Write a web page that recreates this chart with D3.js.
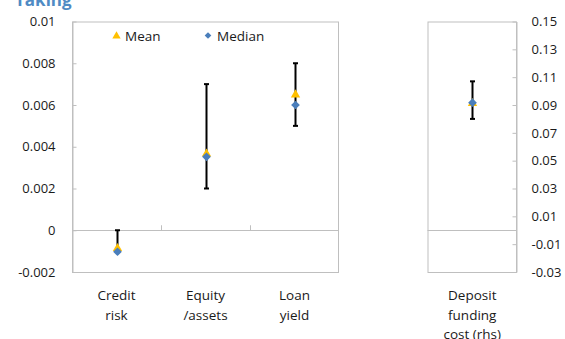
<!DOCTYPE html>
<html>
<head>
<meta charset="utf-8">
<script src="https://cdn.jsdelivr.net/npm/d3@7"></script>
<style>
  html, body { margin: 0; padding: 0; background: #fff; }
  svg { display: block; font-family: "Open Sans", "Noto Sans", sans-serif; }
</style>
</head>
<body>
<svg id="chart" width="565" height="339"></svg>
<script>
// Left panel: bank-level coefficients
const leftCategories = [["Credit", "risk"], ["Equity", "/assets"], ["Loan", "yield"]];
const leftMean   = [-0.00087, 0.00366, 0.00649];
const leftMedian = [-0.00103, 0.00352, 0.0060];
const leftLow    = [-0.00103, 0.0020, 0.0050];
const leftHigh   = [0.0, 0.0070, 0.0080];
const leftTicks  = [-0.002, 0, 0.002, 0.004, 0.006, 0.008, 0.01];
const leftTickLabels = ["-0.002", "0", "0.002", "0.004", "0.006", "0.008", "0.01"];

// Right panel: deposit funding cost (right-hand scale)
const rightCategories = [["Deposit", "funding", "cost (rhs)"]];
const rightMean   = [0.0912];
const rightMedian = [0.0917];
const rightLow    = [0.080];
const rightHigh   = [0.107];
const rightTicks  = [-0.03, -0.01, 0.01, 0.03, 0.05, 0.07, 0.09, 0.11, 0.13, 0.15];
const rightTickLabels = ["-0.03", "-0.01", "0.01", "0.03", "0.05", "0.07", "0.09", "0.11", "0.13", "0.15"];

const legendItems = ["Mean", "Median"];
const titleText = "Taking";

const meanColor = "#FFC000";
const medianColor = "#4A7EBB";
const frameColor = "#BFBFBF";
const textColor = "#1a1a1a";

const svg = d3.select("#chart");

// Title (partly above the canvas)
svg.append("text")
  .attr("x", 15).attr("y", 6)
  .attr("fill", "#4F8BC4")
  .attr("font-weight", "bold")
  .attr("font-size", 17)
  .text(titleText);

function panel(opts) {
  const { x0, x1, y0, y1, domain, ticks, tickLabels, cats, mean, median, low, high, axisSide, catTicks } = opts;
  const g = svg.append("g");
  const x = d3.scaleBand().domain(d3.range(cats.length)).range([x0, x1]);
  const y = d3.scaleLinear().domain(domain).range([y1, y0]);

  // Frame
  g.append("rect")
    .attr("x", x0 + 0.5).attr("y", y0 + 0.5)
    .attr("width", x1 - x0 - 1).attr("height", y1 - y0)
    .attr("fill", "none").attr("stroke", frameColor).attr("stroke-width", 1);

  // Zero line
  g.append("line")
    .attr("x1", x0).attr("x2", x1)
    .attr("y1", Math.round(y(0)) + 0.5).attr("y2", Math.round(y(0)) + 0.5)
    .attr("stroke", frameColor);

  // Category tick marks on the zero line
  if (catTicks) {
    d3.range(1, cats.length).forEach(i => {
      const xx = Math.round(x(i)) + 0.5;
      g.append("line")
        .attr("x1", xx).attr("x2", xx)
        .attr("y1", y(0) - 5).attr("y2", y(0))
        .attr("stroke", frameColor);
    });
  }

  // Value axis
  const axisX = axisSide === "left" ? x0 : x1;
  const axis = (axisSide === "left" ? d3.axisLeft(y) : d3.axisRight(y))
    .tickValues(ticks)
    .tickFormat((d, i) => tickLabels[i])
    .tickSizeInner(-4)
    .tickSizeOuter(0)
    .tickPadding(axisSide === "left" ? 17 : 15);
  const ag = g.append("g")
    .attr("transform", `translate(${axisX + (axisSide === "left" ? 0.5 : -0.5)},0)`)
    .call(axis);
  ag.select(".domain").attr("stroke", frameColor);
  ag.selectAll(".tick line").attr("stroke", frameColor);
  ag.selectAll(".tick text")
    .attr("fill", textColor)
    .attr("font-size", 13)
    .attr("font-family", "\"Open Sans\", \"Noto Sans\", sans-serif");

  // Category labels
  cats.forEach((lines, i) => {
    const cx = x(i) + x.bandwidth() / 2;
    const t = g.append("text")
      .attr("text-anchor", "middle")
      .attr("fill", textColor)
      .attr("font-size", 13.5);
    lines.forEach((ln, k) => {
      t.append("tspan").attr("x", cx).attr("y", y1 + 28 + k * 19.5).text(ln);
    });
  });

  // Error bars
  cats.forEach((_, i) => {
    const cx = Math.round(x(i) + x.bandwidth() / 2) + 0.5;
    g.append("line")
      .attr("x1", cx).attr("x2", cx)
      .attr("y1", y(low[i])).attr("y2", y(high[i]))
      .attr("stroke", "#000").attr("stroke-width", 2);
    [low[i], high[i]].forEach(v => {
      g.append("line")
        .attr("x1", cx - 2.5).attr("x2", cx + 2.5)
        .attr("y1", y(v)).attr("y2", y(v))
        .attr("stroke", "#000").attr("stroke-width", 2);
    });
  });

  // Mean (triangle) and median (diamond)
  const tri = d3.symbol().type(d3.symbolTriangle).size(38);
  const dia = d3.symbol().type(d3.symbolSquare).size(38);
  cats.forEach((_, i) => {
    const cx = Math.round(x(i) + x.bandwidth() / 2) + 0.5;
    g.append("path").attr("d", tri())
      .attr("transform", `translate(${cx},${y(mean[i])})`)
      .attr("fill", meanColor);
    g.append("path").attr("d", dia())
      .attr("transform", `translate(${cx},${y(median[i])}) rotate(45)`)
      .attr("fill", medianColor);
  });
}

panel({
  x0: 72, x1: 339, y0: 21.5, y1: 272,
  domain: [-0.002, 0.01],
  ticks: leftTicks, tickLabels: leftTickLabels,
  cats: leftCategories,
  mean: leftMean, median: leftMedian, low: leftLow, high: leftHigh,
  axisSide: "left", catTicks: true
});

panel({
  x0: 427.5, x1: 517, y0: 21.5, y1: 272,
  domain: [-0.03, 0.15],
  ticks: rightTicks, tickLabels: rightTickLabels,
  cats: rightCategories,
  mean: rightMean, median: rightMedian, low: rightLow, high: rightHigh,
  axisSide: "right", catTicks: false
});

// Legend
const lg = svg.append("g");
lg.append("path").attr("d", d3.symbol().type(d3.symbolTriangle).size(30)())
  .attr("transform", "translate(116.5,36)").attr("fill", meanColor);
lg.append("text").attr("x", 125).attr("y", 40.5)
  .attr("font-size", 13.5).attr("fill", textColor).text(legendItems[0]);
lg.append("path").attr("d", d3.symbol().type(d3.symbolSquare).size(22)())
  .attr("transform", "translate(208,35.5) rotate(45)").attr("fill", medianColor);
lg.append("text").attr("x", 217).attr("y", 40.5)
  .attr("font-size", 13.5).attr("fill", textColor).text(legendItems[1]);
</script>
</body>
</html>
